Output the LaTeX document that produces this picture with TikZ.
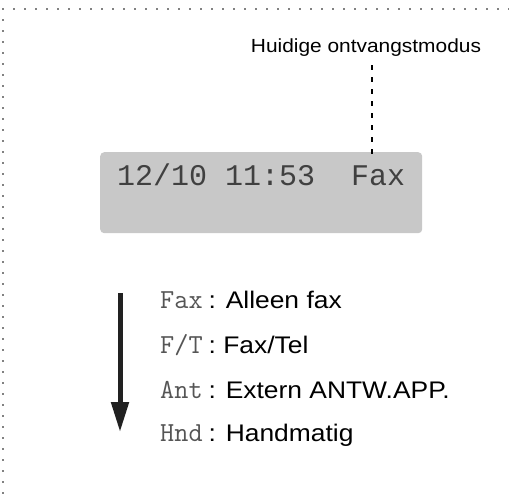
\documentclass[tikz,border=0pt]{standalone}
\usepackage{fontspec}
\usetikzlibrary{arrows.meta}
\setmainfont{Liberation Sans}
\newfontfamily\labfont[FakeStretch=1.1]{Liberation Sans}
\newfontfamily\lcdfont{Liberation Mono}
\definecolor{lcdgray}{RGB}{200,200,200}
\definecolor{monogray}{RGB}{85,85,85}
\newcommand{\mn}[1]{{\ttfamily\color{monogray}\fontsize{27.5}{28}\selectfont #1}}
\tikzset{
  border/.style={line width=1.8pt, dash pattern=on 0pt off 11pt, line cap=round, draw=black},
  callout/.style={line width=1.8pt, dash pattern=on 5pt off 7pt},
  lcdbox/.style={fill=lcdgray, rounded corners=4pt},
  lcdtext/.style={font=\lcdfont\fontsize{30}{31}\selectfont, text=black!75, inner sep=0pt, anchor=base west},
  label/.style={font=\labfont\fontsize{19}{22}\selectfont, inner sep=0pt},
  item/.style={anchor=west, inner sep=0pt, font=\labfont\fontsize{24}{28}\selectfont},
  bigarrow/.style={line width=5pt, draw=black!87, -{Triangle[length=30pt,width=17pt]}}
}
\begin{document}
\begin{tikzpicture}[x=1pt,y=-1pt]
\useasboundingbox (0,0) rectangle (509,501);
% dotted border (top and left)
\coordinate (tl) at (3,9);
\coordinate (tr) at (509,9);
\coordinate (bl) at (3,501);
\draw[border] (tr) -- (tl) -- (bl);
% LCD
\node[lcdbox, minimum width=322pt, minimum height=81pt, anchor=north west] (lcd) at (100,152) {};
\node[lcdtext] (lcdt) at (117,185) {12/10 11:53\ \ Fax};
% callout
\node[label] (lab) at (366,48) {Huidige ontvangstmodus};
\coordinate (ctop) at (372,65);
\coordinate (cbot) at (372,157);
\draw[callout] (ctop) -- (cbot);
% arrow
\coordinate (atop) at (120,293);
\coordinate (abot) at (120,432);
\draw[bigarrow] (atop) -- (abot);
% items
\node[item] (i1) at (160,300) {\mn{Fax}\hspace{6pt}: Alleen fax};
\node[item] (i2) at (160,345) {\mn{F/T}\hspace{6pt}: Fax/Tel};
\node[item] (i3) at (160,390) {\mn{Ant}\hspace{6pt}: Extern ANTW.APP.};
\node[item] (i4) at (160,435) {\mn{Hnd}\hspace{6pt}: Handmatig};
\end{tikzpicture}
\end{document}
